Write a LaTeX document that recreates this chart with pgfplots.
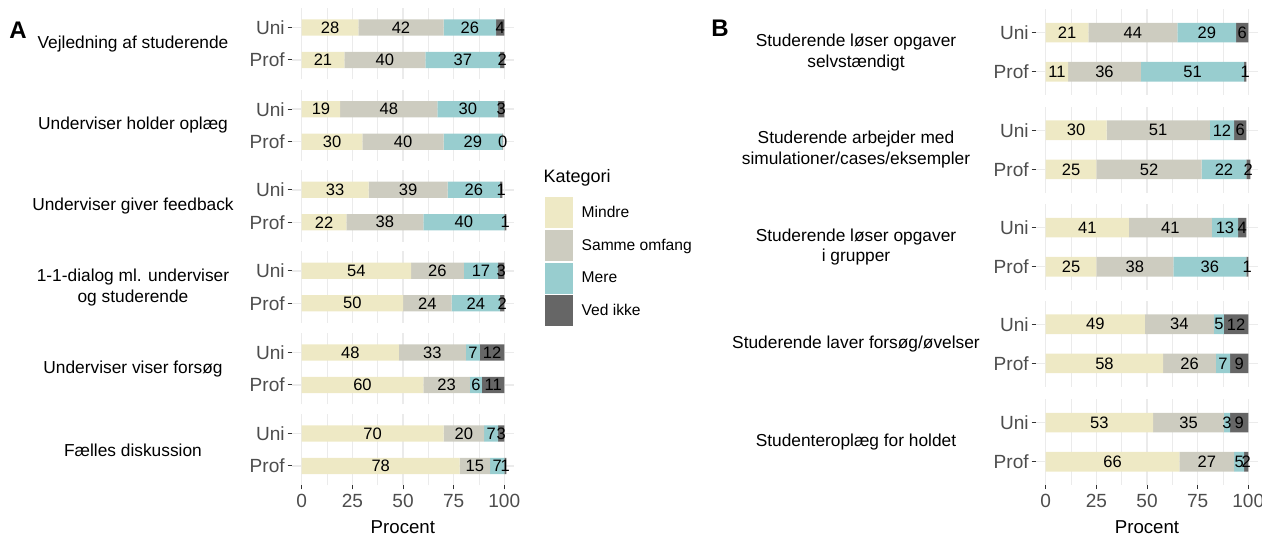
\documentclass[border=0pt]{standalone}
\usepackage{fontspec}
\setmainfont{Liberation Sans}
\usepackage{pgfplots}
\usepackage{pgfplotstable}
\pgfplotsset{compat=1.18}

\definecolor{mindre}{HTML}{EEE9C5}
\definecolor{samme}{HTML}{CDCCC0}
\definecolor{mere}{HTML}{98CDCF}
\definecolor{vedikke}{HTML}{666666}
\definecolor{gridc}{HTML}{EBEBEB}
\definecolor{tickc}{HTML}{333333}
\definecolor{txtgrey}{HTML}{4D4D4D}

% g: 0 = Prof, 1 = Uni
\pgfplotstableread{
g m s mr v
0 21 40 37 2
1 28 42 26 4
}\Aone
\pgfplotstableread{
g m s mr v
0 30 40 29 0.4
1 19 48 30 3
}\Atwo
\pgfplotstableread{
g m s mr v
0 22 38 40 1
1 33 39 26 1
}\Athree
\pgfplotstableread{
g m s mr v
0 50 24 24 2
1 54 26 17 3
}\Afour
\pgfplotstableread{
g m s mr v
0 60 23 6 11
1 48 33 7 12
}\Afive
\pgfplotstableread{
g m s mr v
0 78 15 7 1
1 70 20 7 3
}\Asix
\pgfplotstableread{
g m s mr v
0 11 36 51 1
1 21 44 29 6
}\Bone
\pgfplotstableread{
g m s mr v
0 25 52 22 2
1 30 51 12 6
}\Btwo
\pgfplotstableread{
g m s mr v
0 25 38 36 1
1 41 41 13 4
}\Bthree
\pgfplotstableread{
g m s mr v
0 58 26 7 9
1 49 34 5 12
}\Bfour
\pgfplotstableread{
g m s mr v
0 66 27 5 2
1 53 35 3 9
}\Bfive

\pgfplotsset{
  facet/.style={
    scale only axis, width=167.1pt, anchor=south west,
    xmin=-5, xmax=105, ymin=-0.6, ymax=1.6, enlargelimits=false,
    xbar stacked, bar width=0.5,
    axis line style={draw=none},
    xtick={0,25,50,75,100}, minor xtick={12.5,37.5,62.5,87.5},
    ytick={0,1}, yticklabels={Prof,Uni},
    xtick pos=bottom, ytick pos=left, tick align=outside,
    major tick length=3pt, minor tick length=0pt,
    tick style={draw=tickc, line width=0.7pt},
    xmajorgrids, xminorgrids, ymajorgrids,
    major grid style={draw=gridc, line width=1.1pt},
    minor grid style={draw=gridc, line width=0.6pt},
    yticklabel style={font=\fontsize{14.3}{16}\selectfont, text=txtgrey, inner sep=2pt},
    xticklabel style={font=\fontsize{14.3}{16}\selectfont, text=txtgrey},
    xticklabels={}, major x tick style={draw=none},
    point meta=explicit,
    nodes near coords={\pgfmathprintnumber[fixed, precision=0, assume math mode=true]{\pgfplotspointmeta}},
    every node near coord/.style={anchor=center, inner sep=0pt, text=black,
      font=\fontsize{12.4}{14}\selectfont},
  },
  bottomfacet/.style={xticklabels={0,25,50,75,100}, major x tick style={draw=tickc}},
}

% #1 left (px), #2 bottom (px), #3 height, #4 table, #5 extra options
\newcommand{\facet}[5]{%
  \begin{axis}[facet, at={(#1*0.75pt,-#2*0.75pt)}, height=#3, #5]
    \addplot[fill=mindre, draw=none] table[x=m, y=g, meta=m]{#4};
    \addplot[fill=samme, draw=none] table[x=s, y=g, meta=s]{#4};
    \addplot[fill=mere, draw=none] table[x=mr, y=g, meta=mr]{#4};
    \addplot[fill=vedikke, draw=none] table[x=v, y=g, meta=v]{#4};
  \end{axis}}

\begin{document}
\begin{tikzpicture}
\useasboundingbox (0,0) rectangle (1262*0.75pt,-537*0.75pt);

% panel A
\facet{291.6}{79.4}{53.5pt}{\Aone}{}
\facet{291.6}{161.1}{53.5pt}{\Atwo}{}
\facet{291.6}{241.7}{53.5pt}{\Athree}{}
\facet{291.6}{322.7}{53.5pt}{\Afour}{}
\facet{291.6}{404.4}{53.5pt}{\Afive}{}
\facet{291.6}{485.4}{53.5pt}{\Asix}{bottomfacet}

% panel B
\facet{1035.6}{95.2}{64.5pt}{\Bone}{}
\facet{1035.6}{192.8}{64.5pt}{\Btwo}{}
\facet{1035.6}{290.2}{64.5pt}{\Bthree}{}
\facet{1035.6}{386.8}{64.5pt}{\Bfour}{}
\facet{1035.6}{485.2}{64.5pt}{\Bfive}{bottomfacet}

% legend
\begin{axis}[hide axis, scale only axis, width=10pt, height=10pt,
  xmin=0, xmax=1, ymin=0, ymax=1,
  at={(545*0.75pt,-197.3*0.75pt)}, anchor=north west,
  legend cell align=left,
  legend style={at={(0,1)}, anchor=north west, draw=none, fill=none,
    inner sep=0pt, outer sep=0pt, row sep=1.3pt, nodes={inner sep=0pt},
    font=\fontsize{11.7}{13}\selectfont},
  legend image code/.code={\fill[#1] (0pt,-11.6pt) rectangle (20.8pt,11.6pt);
    \path (27.5pt,0pt);}]
  \addlegendimage{fill=mindre, draw=none}\addlegendentry{Mindre}
  \addlegendimage{fill=samme, draw=none}\addlegendentry{Samme omfang}
  \addlegendimage{fill=mere, draw=none}\addlegendentry{Mere}
  \addlegendimage{fill=vedikke, draw=none}\addlegendentry{Ved ikke}
\end{axis}

\begin{scope}[x=0.75pt, y=-0.75pt]
  \node[anchor=west, inner sep=0pt, font=\fontsize{13.5}{15}\selectfont] at (543.3,178.3) {Kategori};
  \node[font=\bfseries\fontsize{18}{20}\selectfont] at (18,30) {A};
  \node[font=\bfseries\fontsize{18}{20}\selectfont] at (720,28) {B};
  \begin{scope}[every node/.style={align=center, font=\fontsize{13}{15.5}\selectfont}]
    \node at (133,43.9) {Vejledning af studerende};
    \node at (133,125.5) {Underviser holder oplæg};
    \node at (133,206.2) {Underviser giver feedback};
    \node at (133,287.4) {1-1-dialog ml. underviser\\og studerende};
    \node at (133,368.9) {Underviser viser forsøg};
    \node at (133,450.2) {Fælles diskussion};
    \node at (856,52.2) {Studerende løser opgaver\\selvstændigt};
    \node at (856,149.7) {Studerende arbejder med\\simulationer/cases/eksempler};
    \node at (856,247) {Studerende løser opgaver\\i grupper};
    \node at (856,343.7) {Studerende laver forsøg/øvelser};
    \node at (856,442) {Studenteroplæg for holdet};
  \end{scope}
  \node[font=\fontsize{14}{16}\selectfont] at (402.9,527) {Procent};
  \node[font=\fontsize{14}{16}\selectfont] at (1147,527) {Procent};
\end{scope}
\end{tikzpicture}
\end{document}
